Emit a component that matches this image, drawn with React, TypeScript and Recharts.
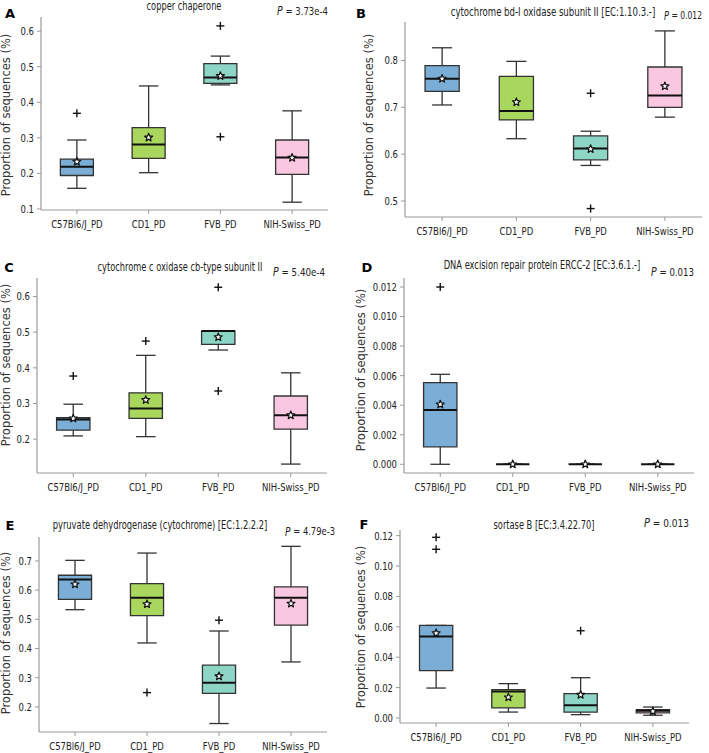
import React, { useLayoutEffect, useRef, useState } from 'react';
import { ComposedChart, XAxis, YAxis, ReferenceArea, ReferenceLine, Scatter } from 'recharts';

const GROUPS = ['C57Bl6/J_PD', 'CD1_PD', 'FVB_PD', 'NIH-Swiss_PD'];
const FILLS = ['#7aaed6', '#a9d65c', '#8dd5c5', '#f9c7df'];

// each box: [whisker low, Q1, median, Q3, whisker high]
const copperBoxes = [
  [0.158, 0.194, 0.219, 0.240, 0.294],
  [0.202, 0.242, 0.281, 0.329, 0.446],
  [0.449, 0.453, 0.470, 0.509, 0.530],
  [0.119, 0.197, 0.245, 0.294, 0.376],
];
const copperMeans = [0.233, 0.301, 0.474, 0.244];
const copperOutliers = [[0, 0.369], [2, 0.615], [2, 0.303]];
const copperTicks = [0.1, 0.2, 0.3, 0.4, 0.5, 0.6];

const bdBoxes = [
  [0.705, 0.734, 0.761, 0.789, 0.827],
  [0.633, 0.673, 0.692, 0.766, 0.798],
  [0.576, 0.588, 0.612, 0.639, 0.649],
  [0.679, 0.700, 0.725, 0.786, 0.863],
];
const bdMeans = [0.761, 0.711, 0.611, 0.745];
const bdOutliers = [[2, 0.730], [2, 0.484]];
const bdTicks = [0.5, 0.6, 0.7, 0.8];

const cbBoxes = [
  [0.209, 0.225, 0.255, 0.260, 0.298],
  [0.207, 0.258, 0.286, 0.330, 0.435],
  [0.450, 0.466, 0.503, 0.503, 0.503],
  [0.130, 0.228, 0.267, 0.321, 0.386],
];
const cbMeans = [0.258, 0.310, 0.486, 0.267];
const cbOutliers = [[0, 0.377], [1, 0.475], [2, 0.626], [2, 0.335]];
const cbTicks = [0.2, 0.3, 0.4, 0.5, 0.6];

const erccBoxes = [
  [0, 0.00118, 0.00367, 0.00553, 0.00609],
  [0, 0, 0, 0, 0],
  [0, 0, 0, 0, 0],
  [0, 0, 0, 0, 0],
];
const erccMeans = [0.00405, 0, 0, 0];
const erccOutliers = [[0, 0.012]];
const erccTicks = [0, 0.002, 0.004, 0.006, 0.008, 0.01, 0.012];

const pyrBoxes = [
  [0.533, 0.568, 0.636, 0.651, 0.702],
  [0.419, 0.513, 0.574, 0.622, 0.727],
  [0.143, 0.246, 0.283, 0.343, 0.460],
  [0.354, 0.480, 0.574, 0.611, 0.750],
];
const pyrMeans = [0.620, 0.552, 0.305, 0.554];
const pyrOutliers = [[1, 0.249], [2, 0.497]];
const pyrTicks = [0.2, 0.3, 0.4, 0.5, 0.6, 0.7];

const srtBoxes = [
  [0.0197, 0.0311, 0.0537, 0.0609, 0.0609],
  [0.0039, 0.0066, 0.0175, 0.0186, 0.0226],
  [0.0022, 0.0039, 0.0083, 0.0160, 0.0265],
  [0.0018, 0.0033, 0.0048, 0.0055, 0.0072],
];
const srtMeans = [0.0558, 0.0136, 0.0153, 0.0044];
const srtOutliers = [[0, 0.1189], [0, 0.1110], [2, 0.0574]];
const srtTicks = [0, 0.02, 0.04, 0.06, 0.08, 0.1, 0.12];

const FONT = '"DejaVu Sans", sans-serif';
const AXIS = '#9a9a9a';
const EDGE = '#333';

// layout: plot box, text anchors, and rendered text widths (the source uses a condensed face)
const PANELS = [
  { letter: 'A', title: 'copper chaperone', p: '3.73e-4', boxes: copperBoxes, means: copperMeans, outliers: copperOutliers, ticks: copperTicks, digits: 1,
    domain: [0.097, 0.64], plot: { l: 41, r: 328, t: 17, b: 210 }, letterAt: [10, 13], titleAt: [184, 6, 75], pAt: [328, 11, 51], labelAt: [6, 115] },
  { letter: 'B', title: 'cytochrome bd-I oxidase subunit II [EC:1.10.3.-]', p: '0.012', boxes: bdBoxes, means: bdMeans, outliers: bdOutliers, ticks: bdTicks, digits: 1,
    domain: [0.466, 0.882], plot: { l: 405, r: 702, t: 22, b: 217 }, letterAt: [361, 13], titleAt: [553, 12, 205], pAt: [702, 15, 38], labelAt: [369, 115] },
  { letter: 'C', title: 'cytochrome c oxidase cb-type subunit II', p: '5.40e-4', boxes: cbBoxes, means: cbMeans, outliers: cbOutliers, ticks: cbTicks, digits: 1,
    domain: [0.105, 0.652], plot: { l: 37, r: 327, t: 278, b: 473 }, letterAt: [9, 267], titleAt: [180, 267, 165], pAt: [325, 272, 52], labelAt: [6, 365] },
  { letter: 'D', title: 'DNA excision repair protein ERCC-2 [EC:3.6.1.-]', p: '0.013', boxes: erccBoxes, means: erccMeans, outliers: erccOutliers, ticks: erccTicks, digits: 3,
    domain: [-0.00059, 0.01261], plot: { l: 404, r: 694, t: 278, b: 473 }, letterAt: [367, 267], titleAt: [542, 265, 197], pAt: [694, 272, 43], labelAt: [361, 370] },
  { letter: 'E', title: 'pyruvate dehydrogenase (cytochrome) [EC:1.2.2.2]', p: '4.79e-3', boxes: pyrBoxes, means: pyrMeans, outliers: pyrOutliers, ticks: pyrTicks, digits: 1,
    domain: [0.114, 0.782], plot: { l: 39, r: 327, t: 537, b: 732 }, letterAt: [10, 525], titleAt: [160, 525, 215], pAt: [335, 531, 50], labelAt: [6, 633] },
  { letter: 'F', title: 'sortase B [EC:3.4.22.70]', p: '0.013', boxes: srtBoxes, means: srtMeans, outliers: srtOutliers, ticks: srtTicks, digits: 2,
    domain: [-0.0033, 0.1237], plot: { l: 400, r: 689, t: 530, b: 723 }, letterAt: [364, 524], titleAt: [544, 525, 101], pAt: [689, 523, 45], labelAt: [361, 627] },
];

const BOX_HALF = 0.23;
const CAP_HALF = 0.135;
const NARROW = 0.77;

const Star = ({ cx, cy }: any) => {
  const pts: string[] = [];
  for (let i = 0; i < 10; i++) {
    const r = i % 2 === 0 ? 4.2 : 1.8;
    const a = -Math.PI / 2 + (i * Math.PI) / 5;
    pts.push(`${cx + r * Math.cos(a)},${cy + r * Math.sin(a)}`);
  }
  return <polygon points={pts.join(' ')} fill="#fff" stroke="#111" strokeWidth={1.2} strokeLinejoin="round" />;
};

const Plus = ({ cx, cy }: any) => (
  <g stroke="#111" strokeWidth={1.4}>
    <line x1={cx - 4} y1={cy} x2={cx + 4} y2={cy} />
    <line x1={cx} y1={cy - 4} x2={cx} y2={cy + 4} />
  </g>
);

const XTick = ({ x, y, payload }: any) => (
  <text transform={`translate(${x},${y}) scale(${NARROW},1)`} textAnchor="middle" dy="0.71em" fill="#222" fontSize={11} fontFamily={FONT}>
    {GROUPS[payload.value - 1]}
  </text>
);

const makeYTick = (digits: number) => ({ x, y, payload }: any) => (
  <text transform={`translate(${x},${y}) scale(${NARROW},1)`} textAnchor="end" dy="0.355em" fill="#222" fontSize={11} fontFamily={FONT}>
    {Number(payload.value).toFixed(digits)}
  </text>
);

// squeezes a text horizontally so it spans the given width, like the condensed face in the source
function FitText({ x, y, width, anchor, children, ...rest }: any) {
  const ref = useRef<SVGTextElement>(null);
  const [s, setS] = useState(1);
  useLayoutEffect(() => {
    const len = ref.current ? ref.current.getComputedTextLength() : 0;
    if (len > 0) setS(width / len);
  }, [width]);
  return (
    <text ref={ref} transform={`translate(${x},${y}) scale(${s},1)`} textAnchor={anchor} dominantBaseline="central" {...rest}>
      {children}
    </text>
  );
}

function PanelChart({ cfg }: { cfg: any }) {
  const { plot } = cfg;
  const means = cfg.means.map((v: number, i: number) => ({ x: i + 1, v }));
  const outs = cfg.outliers.map(([g, v]: number[]) => ({ x: g + 1, v }));

  return (
    <div style={{ position: 'absolute', left: plot.l - 40, top: plot.t - 5 }}>
      <ComposedChart width={plot.r - plot.l + 45} height={plot.b - plot.t + 35} margin={{ top: 5, right: 5, left: 0, bottom: 0 }}>
        <XAxis type="number" dataKey="x" domain={[0.5, 4.5]} ticks={[1, 2, 3, 4]} interval={0} allowDataOverflow
          height={30} tickSize={4} tickMargin={6}
          axisLine={{ stroke: AXIS, strokeWidth: 1.2 }} tickLine={{ stroke: AXIS }} tick={XTick} />
        <YAxis type="number" domain={cfg.domain} ticks={cfg.ticks} interval={0} allowDataOverflow width={40}
          tickSize={4} tickMargin={3}
          axisLine={{ stroke: AXIS, strokeWidth: 1.2 }} tickLine={{ stroke: AXIS }} tick={makeYTick(cfg.digits)} />
        {cfg.boxes.map(([lo, q1, , q3, hi]: number[], i: number) => (
          <React.Fragment key={`w${i}`}>
            <ReferenceLine segment={[{ x: i + 1, y: q3 }, { x: i + 1, y: hi }]} stroke={EDGE} strokeWidth={1.3} />
            <ReferenceLine segment={[{ x: i + 1, y: lo }, { x: i + 1, y: q1 }]} stroke={EDGE} strokeWidth={1.3} />
            <ReferenceLine segment={[{ x: i + 1 - CAP_HALF, y: hi }, { x: i + 1 + CAP_HALF, y: hi }]} stroke={EDGE} strokeWidth={1.3} />
            <ReferenceLine segment={[{ x: i + 1 - CAP_HALF, y: lo }, { x: i + 1 + CAP_HALF, y: lo }]} stroke={EDGE} strokeWidth={1.3} />
          </React.Fragment>
        ))}
        {cfg.boxes.map(([, q1, , q3]: number[], i: number) => (
          <ReferenceArea key={`b${i}`} x1={i + 1 - BOX_HALF} x2={i + 1 + BOX_HALF} y1={q1} y2={q3}
            fill={FILLS[i]} fillOpacity={1} stroke={EDGE} strokeWidth={1.3} />
        ))}
        {cfg.boxes.map(([, , med]: number[], i: number) => (
          <ReferenceLine key={`m${i}`} segment={[{ x: i + 1 - BOX_HALF, y: med }, { x: i + 1 + BOX_HALF, y: med }]} stroke="#111" strokeWidth={2} />
        ))}
        <Scatter data={means} dataKey="v" isAnimationActive={false} shape={Star} />
        <Scatter data={outs} dataKey="v" isAnimationActive={false} shape={Plus} />
      </ComposedChart>
    </div>
  );
}

function PanelText({ cfg }: { cfg: any }) {
  const [tx, ty, tw] = cfg.titleAt;
  const [px, py, pw] = cfg.pAt;
  return (
    <g fontFamily={FONT} fill="#222">
      <text x={cfg.letterAt[0]} y={cfg.letterAt[1]} textAnchor="middle" dominantBaseline="central" fontWeight="bold" fontSize={13} fill="#000">
        {cfg.letter}
      </text>
      <FitText x={tx} y={ty} width={tw} anchor="middle" fontSize={11.5}>
        {cfg.title}
      </FitText>
      <FitText x={px} y={py} width={pw} anchor="end" fontSize={11}>
        <tspan fontStyle="italic" fontSize={12}>P</tspan> = {cfg.p}
      </FitText>
      <text transform={`translate(${cfg.labelAt[0]},${cfg.labelAt[1]}) rotate(-90)`} textAnchor="middle" dominantBaseline="central" fontSize={11.5} fill="#333">
        Proportion of sequences (%)
      </text>
    </g>
  );
}

export default function App() {
  return (
    <div style={{ position: 'absolute', left: 0, top: 0, width: 709, height: 753, background: '#fff', overflow: 'hidden' }}>
      {PANELS.map((cfg) => (
        <PanelChart key={cfg.letter} cfg={cfg} />
      ))}
      <svg width={709} height={753} style={{ position: 'absolute', left: 0, top: 0, pointerEvents: 'none' }}>
        {PANELS.map((cfg) => (
          <PanelText key={cfg.letter} cfg={cfg} />
        ))}
      </svg>
    </div>
  );
}
